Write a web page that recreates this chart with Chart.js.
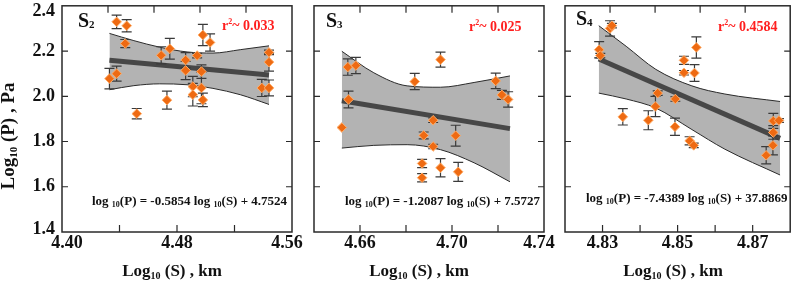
<!DOCTYPE html>
<html>
<head>
<meta charset="utf-8">
<script src="https://cdn.jsdelivr.net/npm/chart.js@4.4.1/dist/chart.umd.min.js"></script>
<style>
  html, body { margin: 0; padding: 0; background: #fff; }
  #wrap { position: relative; width: 796px; height: 284px; overflow: hidden; }
  #wrap canvas { position: absolute; left: 0; top: 0; }
</style>
</head>
<body>
<div id="wrap">
  <canvas id="c2" width="796" height="284"></canvas>
  <canvas id="c3" width="796" height="284"></canvas>
  <canvas id="c4" width="796" height="284"></canvas>
</div>
<script>
// ---- S2 ----
const s2X   = [4.433, 4.438, 4.438, 4.445, 4.444, 4.452, 4.469, 4.475, 4.473, 4.486, 4.486, 4.491, 4.491, 4.494, 4.498, 4.503, 4.497, 4.497, 4.498, 4.539, 4.544, 4.544, 4.544];
const s2Y   = [2.078, 2.100, 2.329, 2.312, 2.233, 1.923, 2.181, 2.210, 1.983, 2.160, 2.114, 2.043, 2.007, 2.180, 2.271, 2.238, 2.109, 2.037, 1.984, 2.037, 2.194, 2.151, 2.037];
const s2Err = [0.045, 0.033, 0.030, 0.027, 0.018, 0.023, 0.038, 0.046, 0.040, 0.033, 0.040, 0.045, 0.050, 0.010, 0.047, 0.038, 0.030, 0.070, 0.030, 0.038, 0.010, 0.040, 0.035];
const s2FitX = [4.433, 4.544];
const s2FitY = [2.159, 2.094];
const s2BandX  = [4.433, 4.450, 4.468, 4.487, 4.505, 4.524, 4.544];
const s2BandUp = [2.278, 2.246, 2.217, 2.196, 2.191, 2.206, 2.223];
const s2BandLo = [2.029, 2.047, 2.055, 2.051, 2.035, 2.007, 1.964];
const s2XTicks = ['4.40', '4.48', '4.56'];
const s2TopTicks = [4.432, 4.464, 4.496, 4.528];

// ---- S3 ----
const s3X   = [4.6521, 4.6547, 4.6582, 4.6550, 4.6838, 4.6950, 4.6918, 4.6877, 4.6918, 4.6870, 4.6870, 4.6950, 4.7016, 4.7027, 4.7190, 4.7217, 4.7244];
const s3Y   = [1.862, 2.129, 2.136, 1.986, 2.065, 2.162, 1.894, 1.827, 1.778, 1.703, 1.640, 1.684, 1.826, 1.666, 2.068, 2.006, 1.986];
const s3Err = [0, 0.036, 0.036, 0.037, 0.036, 0.033, 0.010, 0.015, 0.010, 0.018, 0.018, 0.040, 0.046, 0.042, 0.034, 0.020, 0.034];
const s3FitX = [4.6521, 4.7252];
const s3FitY = [1.980, 1.857];
const s3BandX  = [4.6521, 4.6660, 4.6805, 4.6950, 4.7096, 4.7252];
const s3BandUp = [2.199, 2.104, 2.046, 2.040, 2.061, 2.090];
const s3BandLo = [1.771, 1.783, 1.786, 1.764, 1.706, 1.622];
const s3XTicks = ['4.66', '4.70', '4.74'];
const s3TopTicks = [4.66, 4.68, 4.70, 4.72];

// ---- S4 ----
const s4X   = [4.8291, 4.8294, 4.8320, 4.8325, 4.8354, 4.8422, 4.8441, 4.8447, 4.8494, 4.8493, 4.8517, 4.8517, 4.8550, 4.8545, 4.8532, 4.8543, 4.8736, 4.8754, 4.8755, 4.8755, 4.8770];
const s4Y   = [2.206, 2.180, 2.300, 2.312, 1.909, 1.894, 1.955, 2.014, 1.988, 1.865, 2.159, 2.104, 2.216, 2.103, 1.803, 1.783, 1.739, 1.783, 1.840, 1.891, 1.893];
const s4Err = [0.036, 0.010, 0.034, 0.010, 0.036, 0.042, 0.045, 0.010, 0.010, 0.038, 0.018, 0.010, 0.047, 0.037, 0.018, 0.010, 0.038, 0.042, 0.030, 0.033, 0.008];
const s4FitX = [4.829, 4.8773];
const s4FitY = [2.165, 1.814];
const s4BandX  = [4.8290, 4.8363, 4.8442, 4.8538, 4.8626, 4.8773];
const s4BandUp = [2.312, 2.221, 2.119, 2.046, 2.010, 1.977];
const s4BandLo = [2.014, 1.988, 1.948, 1.853, 1.766, 1.652];
const s4XTicks = ['4.83', '4.85', '4.87'];
const s4TopTicks = [4.832, 4.844, 4.856, 4.868];

// shared y axis
const yTickLabels = ['1.4', '1.6', '1.8', '2.0', '2.2', '2.4'];

const SERIF = '"Liberation Serif", "Times New Roman", serif';
const ORANGE = '#ee6a12', ORANGE_EDGE = '#ffae6a', FIT = '#474747', BAND = '#b3b3b3', INK = '#2a2a2a', RED = '#ff1f1f';

function pts(xs, ys) { return xs.map((x, i) => ({ x: x, y: ys[i] })); }

// text made of pieces (subscripts/superscripts)
function drawRich(ctx, parts, x, y, align) {
  let w = 0;
  parts.forEach(p => { ctx.font = `bold ${p.s}px ${SERIF}`; p.w = ctx.measureText(p.t).width; w += p.w; });
  let cx = align === 'center' ? x - w / 2 : (align === 'right' ? x - w : x);
  parts.forEach(p => { ctx.font = `bold ${p.s}px ${SERIF}`; ctx.fillText(p.t, cx, y + (p.dy || 0)); cx += p.w; });
}

const decor = {
  id: 'decor',
  beforeDatasetDraw(chart, args, o) {
    if (args.index !== 0) return;
    // error bars under the diamonds
    const ctx = chart.ctx, xs = chart.scales.x, ys = chart.scales.y;
    ctx.save();
    ctx.strokeStyle = '#3a3a3a'; ctx.lineWidth = 1.2;
    o.err.forEach((e, i) => {
      if (!e) return;
      const px = xs.getPixelForValue(o.xv[i]);
      const y1 = ys.getPixelForValue(o.yv[i] + e), y2 = ys.getPixelForValue(o.yv[i] - e);
      ctx.beginPath();
      ctx.moveTo(px, y1); ctx.lineTo(px, y2);
      ctx.moveTo(px - 5, y1); ctx.lineTo(px + 5, y1);
      ctx.moveTo(px - 5, y2); ctx.lineTo(px + 5, y2);
      ctx.stroke();
    });
    ctx.restore();
  },
  afterDraw(chart, args, o) {
    const ctx = chart.ctx, a = chart.chartArea, xs = chart.scales.x, ys = chart.scales.y;
    ctx.save();
    // frame
    ctx.strokeStyle = INK; ctx.lineWidth = 1.5;
    ctx.strokeRect(a.left, a.top, a.right - a.left, a.bottom - a.top);
    ctx.lineWidth = 1.2;
    ctx.beginPath();
    xs.ticks.forEach(t => {
      if (t.value <= xs.min + 1e-9 || t.value >= xs.max - 1e-9) return;
      const px = xs.getPixelForValue(t.value);
      ctx.moveTo(px, a.bottom); ctx.lineTo(px, a.bottom - 7);
    });
    o.topTicks.forEach(v => {
      const px = xs.getPixelForValue(v);
      ctx.moveTo(px, a.top); ctx.lineTo(px, a.top + 7);
    });
    ys.ticks.forEach(t => {
      if (t.value <= ys.min + 1e-9 || t.value >= ys.max - 1e-9) return;
      const py = ys.getPixelForValue(t.value);
      ctx.moveTo(a.left, py); ctx.lineTo(a.left + 6, py);
      ctx.moveTo(a.right, py); ctx.lineTo(a.right - 6, py);
    });
    ctx.stroke();

    ctx.fillStyle = '#111';
    ctx.font = `bold 18px ${SERIF}`;
    ctx.textBaseline = 'top'; ctx.textAlign = 'center';
    xs.ticks.forEach(t => {
      const lab = t.value.toFixed(2);
      if (!o.xLabels.includes(lab)) return;
      let px = xs.getPixelForValue(t.value);
      px = Math.min(Math.max(px, a.left + 5), a.right - 5);
      ctx.fillText(lab, px, a.bottom + 2);
    });
    if (o.yLabels) {
      ctx.textBaseline = 'middle'; ctx.textAlign = 'right';
      ys.ticks.forEach(t => {
        const lab = t.value.toFixed(1);
        if (!yTickLabels.includes(lab)) return;
        let py = ys.getPixelForValue(t.value);
        py = Math.min(Math.max(py, a.top + 6), a.bottom - 3);
        ctx.fillText(lab, a.left - 7, py);
      });
    }

    ctx.textBaseline = 'alphabetic'; ctx.textAlign = 'left';
    // axis titles
    drawRich(ctx, [{ t: 'Log', s: 17 }, { t: '10', s: 10, dy: 3 }, { t: ' (S) , km', s: 17 }], o.titleX, 276, 'center');
    if (o.yTitle) {
      ctx.save();
      ctx.translate(14, 136); ctx.rotate(-Math.PI / 2);
      drawRich(ctx, [{ t: 'Log', s: 19 }, { t: '10', s: 11, dy: 3 }, { t: ' (P) , Pa', s: 19 }], 0, 0, 'center');
      ctx.restore();
    }
    // panel tag
    drawRich(ctx, [{ t: 'S', s: 20 }, { t: o.tag, s: 11, dy: 1 }], o.tagPos[0], o.tagPos[1], 'left');
    // r^2
    ctx.fillStyle = RED;
    drawRich(ctx, [{ t: 'r', s: 14 }, { t: '2', s: 8, dy: -6 }, { t: '~ ' + o.r2, s: 14 }], o.r2Pos[0], o.r2Pos[1], 'left');
    // equation
    ctx.fillStyle = '#111';
    drawRich(ctx, [{ t: 'log ', s: 13 }, { t: '10', s: 8, dy: 2 }, { t: '(P) = ' + o.slope + ' log ', s: 13 },
                   { t: '10', s: 8, dy: 2 }, { t: '(S) + ' + o.icpt, s: 13 }], o.eqPos[0], o.eqPos[1], 'left');
    ctx.restore();
  }
};

function panel(id, left, right, xMin, xMax, xStep, d) {
  return new Chart(document.getElementById(id), {
    type: 'scatter',
    data: {
      datasets: [
        { data: pts(d.xv, d.yv), pointStyle: 'rectRot', pointRadius: 4.8, backgroundColor: ORANGE,
          borderColor: ORANGE_EDGE, borderWidth: 1, order: 0 },
        { data: pts(d.fitX, d.fitY), showLine: true, borderColor: FIT, borderWidth: 5, pointRadius: 0, order: 1 },
        { data: pts(d.bandX, d.bandUp), showLine: true, borderColor: INK, borderWidth: 1, pointRadius: 0,
          fill: '+1', backgroundColor: BAND, cubicInterpolationMode: 'monotone', order: 3 },
        { data: pts(d.bandX, d.bandLo), showLine: true, borderColor: INK, borderWidth: 1, pointRadius: 0,
          cubicInterpolationMode: 'monotone', order: 2 }
      ]
    },
    options: {
      responsive: false, animation: false, events: [],
      layout: { padding: { left: left, right: 796 - right, top: 2, bottom: 52 } },
      plugins: { legend: { display: false }, tooltip: { enabled: false }, decor: d },
      scales: {
        x: { type: 'linear', min: xMin, max: xMax, ticks: { display: false, stepSize: xStep },
             grid: { display: false, drawTicks: false }, border: { display: false } },
        y: { type: 'linear', min: 1.4, max: 2.4, ticks: { display: false, stepSize: 0.2 },
             grid: { display: false, drawTicks: false }, border: { display: false } }
      }
    },
    plugins: [decor]
  });
}

panel('c2', 62, 292, 4.40, 4.56, 0.04, {
  xv: s2X, yv: s2Y, err: s2Err, fitX: s2FitX, fitY: s2FitY, bandX: s2BandX, bandUp: s2BandUp, bandLo: s2BandLo,
  xLabels: s2XTicks, topTicks: s2TopTicks, yLabels: true, yTitle: true, titleX: 172,
  tag: '2', tagPos: [78, 27], r2: '0.033', r2Pos: [222, 30], slope: '-0.5854', icpt: '4.7524', eqPos: [92, 205]
});
panel('c3', 314, 544, 4.64, 4.74, 0.02, {
  xv: s3X, yv: s3Y, err: s3Err, fitX: s3FitX, fitY: s3FitY, bandX: s3BandX, bandUp: s3BandUp, bandLo: s3BandLo,
  xLabels: s3XTicks, topTicks: s3TopTicks, yLabels: false, yTitle: false, titleX: 419,
  tag: '3', tagPos: [326, 27], r2: '0.025', r2Pos: [469, 30.5], slope: '-1.2087', icpt: '7.5727', eqPos: [345, 205]
});
panel('c4', 565, 794, 4.82, 4.88, 0.01, {
  xv: s4X, yv: s4Y, err: s4Err, fitX: s4FitX, fitY: s4FitY, bandX: s4BandX, bandUp: s4BandUp, bandLo: s4BandLo,
  xLabels: s4XTicks, topTicks: s4TopTicks, yLabels: false, yTitle: false, titleX: 673,
  tag: '4', tagPos: [576, 25], r2: '0.4584', r2Pos: [718, 30.5], slope: '-7.4389', icpt: '37.8869', eqPos: [586, 202]
});
</script>
</body>
</html>
